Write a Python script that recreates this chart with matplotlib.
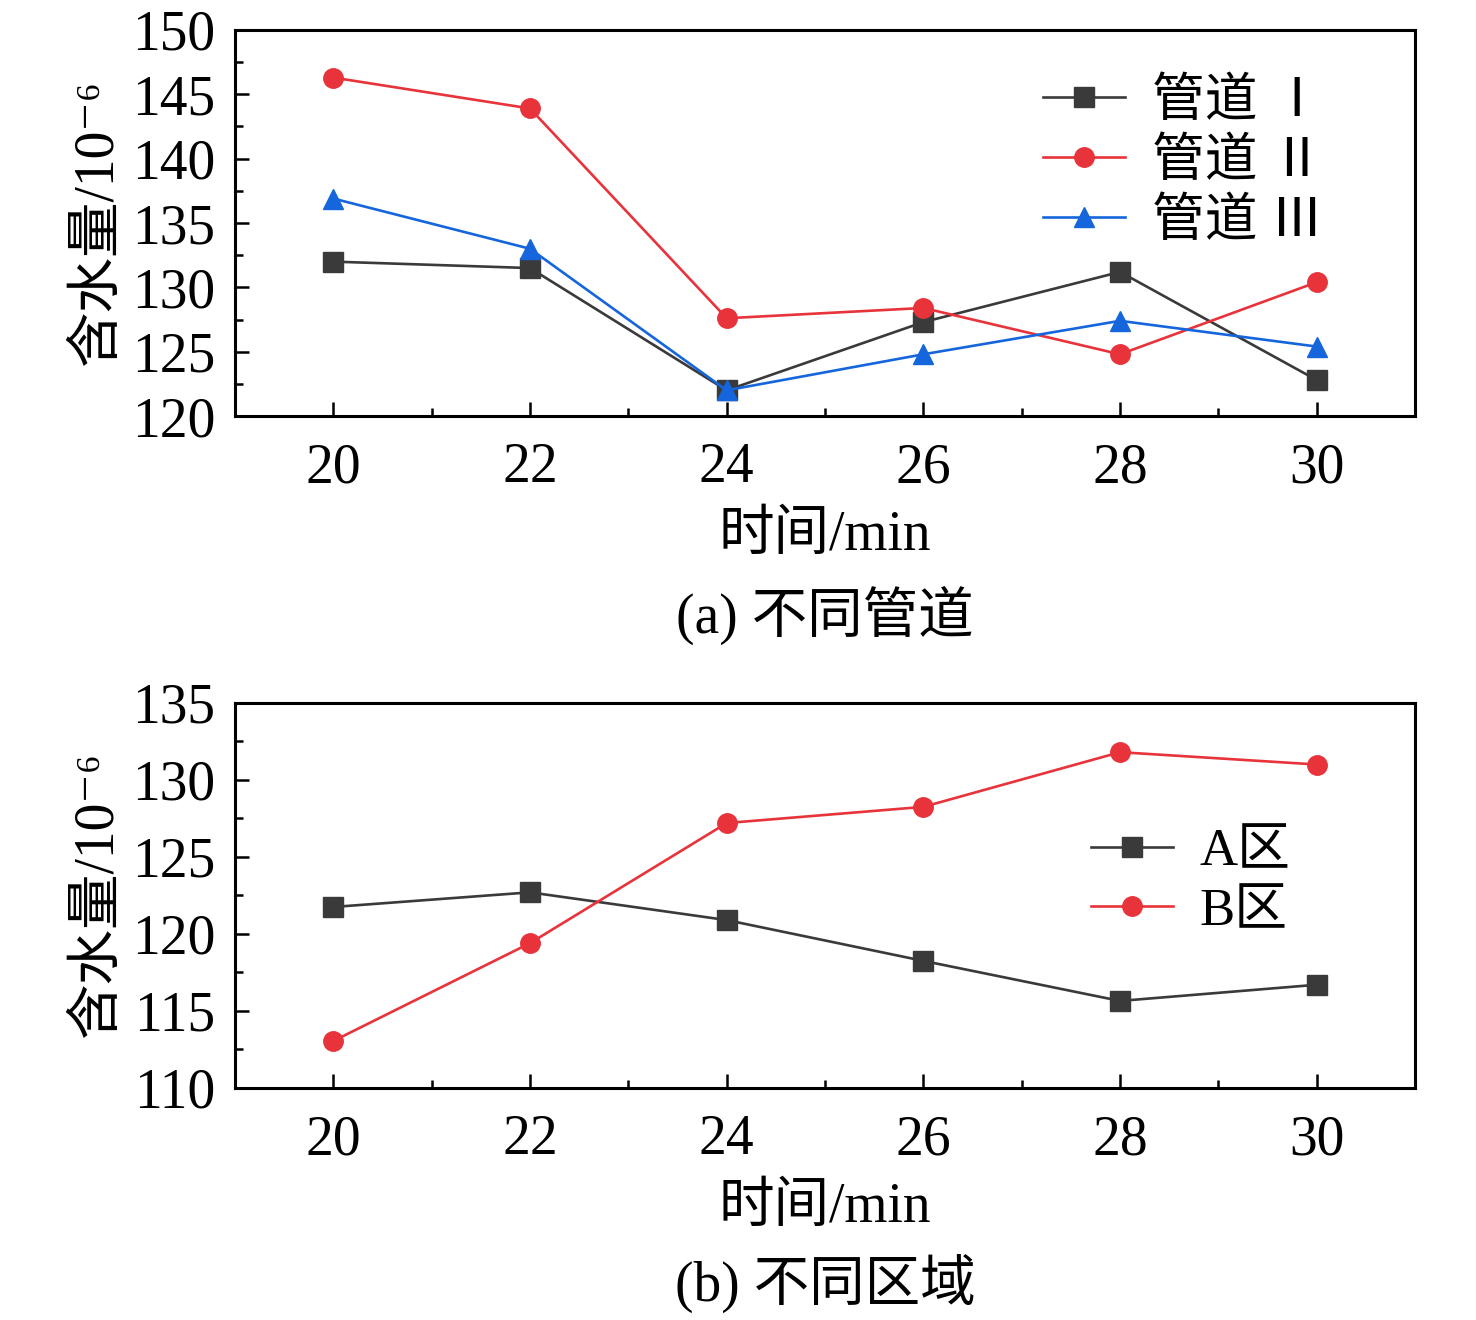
import numpy as np
import matplotlib
matplotlib.use('Agg')
import matplotlib.pyplot as plt
from matplotlib.ticker import MultipleLocator

plt.rcParams['font.family'] = ['Liberation Serif', 'Noto Sans CJK SC', 'DejaVu Serif']
plt.rcParams['axes.unicode_minus'] = False

# data
time = [20, 22, 24, 26, 28, 30]
pipe_1 = [132.0, 131.5, 122.0, 127.3, 131.2, 122.8]
pipe_2 = [146.3, 143.9, 127.6, 128.4, 124.8, 130.4]
pipe_3 = [136.9, 133.0, 122.0, 124.8, 127.4, 125.4]
pipe_labels = ['管道 Ⅰ', '管道 Ⅱ', '管道 Ⅲ']

zone_a = [121.75, 122.7, 120.9, 118.25, 115.65, 116.7]
zone_b = [113.05, 119.4, 127.2, 128.25, 131.8, 131.0]
zone_labels = ['A区', 'B区']

black = '#3a3a3a'
red = '#e8333b'
blue = '#1566dc'
fs = 40

fig = plt.figure(figsize=(14.76, 13.2), dpi=100)
ax1 = fig.add_axes([0.1592, 0.6848, 0.7995, 0.2925])
ax2 = fig.add_axes([0.1592, 0.1758, 0.7995, 0.2917])


def style(ax, ylo, yhi):
    ax.set_xlim(19, 31)
    ax.set_ylim(ylo, yhi)
    ax.set_xticks(time)
    ax.xaxis.set_minor_locator(MultipleLocator(1))
    ax.yaxis.set_major_locator(MultipleLocator(5))
    ax.yaxis.set_minor_locator(MultipleLocator(2.5))
    ax.tick_params(which='both', direction='in', top=False, right=False,
                   width=1.8, labelsize=fs)
    ax.tick_params(which='major', length=10)
    ax.tick_params(which='minor', length=6)
    ax.tick_params(axis='x', pad=19)
    ax.tick_params(axis='y', pad=14)
    for s in ax.spines.values():
        s.set_linewidth(2.2)
    ax.set_xlabel('时间/min', fontsize=fs, labelpad=11)
    ax.set_ylabel('含水量/10⁻⁶', fontsize=fs, labelpad=6)


kw = dict(linewidth=1.9, markersize=14)
ax1.plot(time, pipe_1, marker='s', color=black, label=pipe_labels[0], **kw)
ax1.plot(time, pipe_2, marker='o', color=red, label=pipe_labels[1], **kw)
ax1.plot(time, pipe_3, marker='^', color=blue, label=pipe_labels[2], **kw)
style(ax1, 120, 150)
ax1.legend(loc='upper right', bbox_to_anchor=(0.94, 0.93), frameon=False,
           fontsize=38, handlelength=1.55, handletextpad=0.5, labelspacing=0.22,
           borderaxespad=0)

ax2.plot(time, zone_a, marker='s', color=black, label=zone_labels[0], **kw)
ax2.plot(time, zone_b, marker='o', color=red, label=zone_labels[1], **kw)
style(ax2, 110, 135)
ax2.legend(loc='upper right', bbox_to_anchor=(0.912, 0.729), frameon=False,
           fontsize=38, handlelength=1.55, handletextpad=0.5, labelspacing=0.22,
           borderaxespad=0)

fig.text(0.559, 0.534, '(a) 不同管道', fontsize=fs, ha='center', va='center')
fig.text(0.559, 0.028, '(b) 不同区域', fontsize=fs, ha='center', va='center')

fig.savefig('out.png', dpi=100)
